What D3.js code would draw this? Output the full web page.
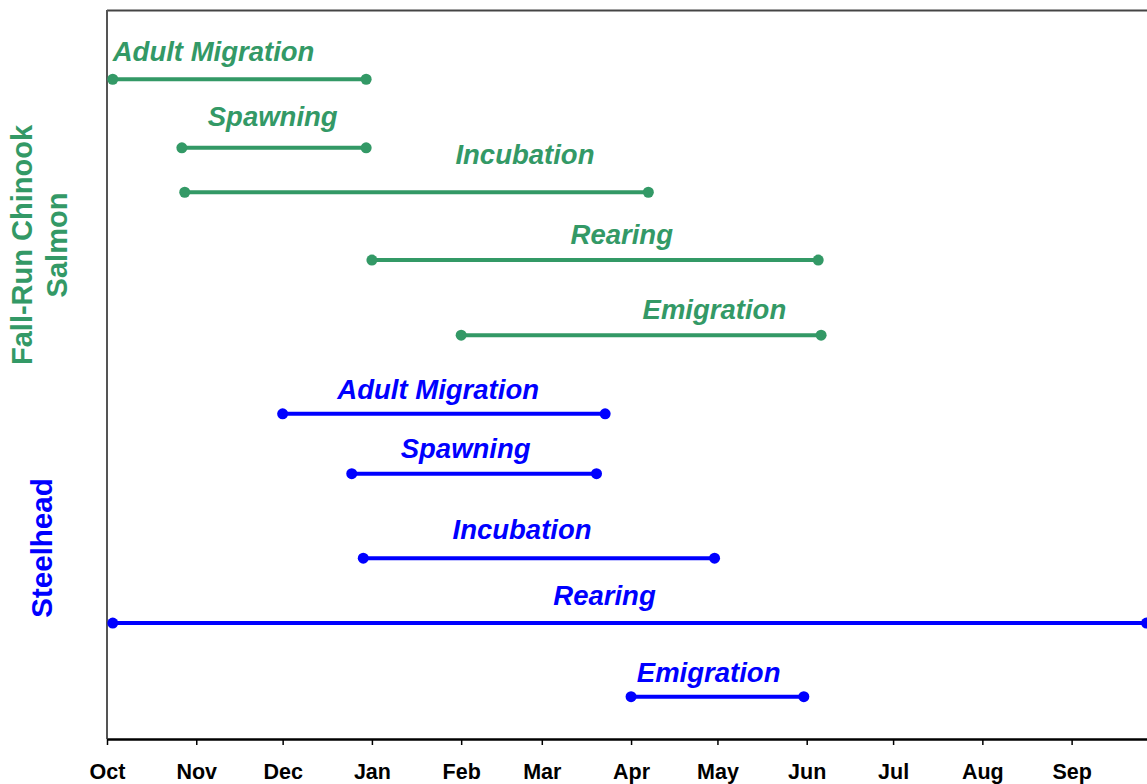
<!DOCTYPE html>
<html>
<head>
<meta charset="utf-8">
<script src="https://cdn.jsdelivr.net/npm/d3@7"></script>
<style>
  html, body { margin: 0; padding: 0; background: #fff; }
  svg { display: block; font-family: "Liberation Sans", Arial, sans-serif; }
</style>
</head>
<body>
<svg id="chart" width="1147" height="784"></svg>
<script>
// Water year shown on the x axis: October through September
const yearStart = "2000-10-01";
const yearEnd   = "2001-10-01";
const monthLabels = ["Oct", "Nov", "Dec", "Jan", "Feb", "Mar", "Apr", "May", "Jun", "Jul", "Aug", "Sep"];

// Fall-run Chinook salmon life stages (start / end dates)
const chinookStages = ["Adult Migration", "Spawning", "Incubation", "Rearing", "Emigration"];
const chinookStart  = ["2000-10-03", "2000-10-27", "2000-10-28", "2001-01-01", "2001-02-01"];
const chinookEnd    = ["2000-12-30", "2000-12-30", "2001-04-07", "2001-06-05", "2001-06-06"];
const chinookRow    = [90.5, 81.1, 75.0, 65.7, 55.4];
const chinookLabelAt = ["2000-10-03", "2000-11-05", "2001-01-30", "2001-03-11", "2001-04-05"];
const chinookLabelRow = [93.0, 84.1, 78.9, 67.9, 57.6];

// Steelhead life stages (start / end dates)
const steelStages = ["Adult Migration", "Spawning", "Incubation", "Rearing", "Emigration"];
const steelStart  = ["2000-12-01", "2000-12-25", "2000-12-29", "2000-10-03", "2001-04-01"];
const steelEnd    = ["2001-03-23", "2001-03-20", "2001-04-30", "2001-09-27", "2001-05-31"];
const steelRow    = [44.6, 36.4, 24.8, 15.9, 5.8];
const steelLabelAt = ["2000-12-20", "2001-01-11", "2001-01-29", "2001-03-05", "2001-04-03"];
const steelLabelRow = [46.6, 38.5, 27.4, 18.4, 7.8];

const GREEN = "#339966";
const BLUE = "#0000ff";

const parse = d3.timeParse("%Y-%m-%d");
const svg = d3.select("#chart");
const plotLeft = 107, plotRight = 1158, plotTop = 10, plotBottom = 739;

const x = d3.scaleTime().domain([parse(yearStart), parse(yearEnd)]).range([plotLeft, plotRight]);
const y = d3.scaleLinear().domain([0, 100]).range([plotBottom, plotTop]);

// Frame: top border and left axis line
svg.append("line")
  .attr("x1", plotLeft).attr("x2", plotRight).attr("y1", plotTop + 0.5).attr("y2", plotTop + 0.5)
  .attr("stroke", "#444").attr("stroke-width", 2);
svg.append("line")
  .attr("x1", plotLeft).attr("x2", plotLeft).attr("y1", plotTop).attr("y2", plotBottom)
  .attr("stroke", "#555").attr("stroke-width", 2);

// Bottom month axis, one tick at the start of each month
const monthTicks = d3.timeMonth.range(parse(yearStart), parse(yearEnd));
const xAxis = d3.axisBottom(x)
  .tickValues(monthTicks)
  .tickFormat((d, i) => monthLabels[i])
  .tickSize(6)
  .tickSizeOuter(0);
const gx = svg.append("g").attr("transform", `translate(0,${plotBottom})`).call(xAxis);
gx.select(".domain").attr("stroke", "#000").attr("stroke-width", 2.5);
gx.selectAll(".tick line").attr("stroke", "#000").attr("stroke-width", 1.5);
gx.selectAll(".tick text")
  .attr("y", 40).attr("dy", 0)
  .attr("fill", "#000")
  .style("font-size", "21.5px").style("font-weight", "bold")
  .style("font-family", "'Liberation Sans', Arial, sans-serif");

function drawGroup(stages, starts, ends, rows, labelAt, labelRow, color) {
  const data = stages.map((s, i) => ({
    name: s, start: parse(starts[i]), end: parse(ends[i]), row: rows[i],
    lx: parse(labelAt[i]), ly: labelRow[i]
  }));
  const g = svg.append("g");
  g.selectAll("line.bar").data(data).join("line")
    .attr("class", "bar")
    .attr("x1", d => x(d.start)).attr("x2", d => x(d.end))
    .attr("y1", d => y(d.row)).attr("y2", d => y(d.row))
    .attr("stroke", color).attr("stroke-width", 4);
  const dots = data.flatMap(d => [{ v: d.start, row: d.row }, { v: d.end, row: d.row }]);
  g.selectAll("circle").data(dots).join("circle")
    .attr("cx", d => x(d.v)).attr("cy", d => y(d.row))
    .attr("r", 5.5).attr("fill", color);
  g.selectAll("text").data(data).join("text")
    .attr("x", d => x(d.lx)).attr("y", d => y(d.ly))
    .attr("fill", color)
    .style("font-size", "27.5px").style("font-weight", "bold").style("font-style", "italic")
    .text(d => d.name);
}

drawGroup(chinookStages, chinookStart, chinookEnd, chinookRow, chinookLabelAt, chinookLabelRow, GREEN);
drawGroup(steelStages, steelStart, steelEnd, steelRow, steelLabelAt, steelLabelRow, BLUE);

// Species titles along the left side
const t1 = svg.append("text")
  .attr("transform", "translate(0,245) rotate(-90)")
  .attr("text-anchor", "middle")
  .attr("fill", GREEN)
  .style("font-size", "29px").style("font-weight", "bold");
t1.append("tspan").attr("x", 0).attr("y", 32).text("Fall-Run Chinook");
t1.append("tspan").attr("x", 0).attr("y", 67).text("Salmon");

svg.append("text")
  .attr("transform", "translate(52,548) rotate(-90)")
  .attr("text-anchor", "middle")
  .attr("fill", BLUE)
  .style("font-size", "29.5px").style("font-weight", "bold")
  .text("Steelhead");
</script>
</body>
</html>
